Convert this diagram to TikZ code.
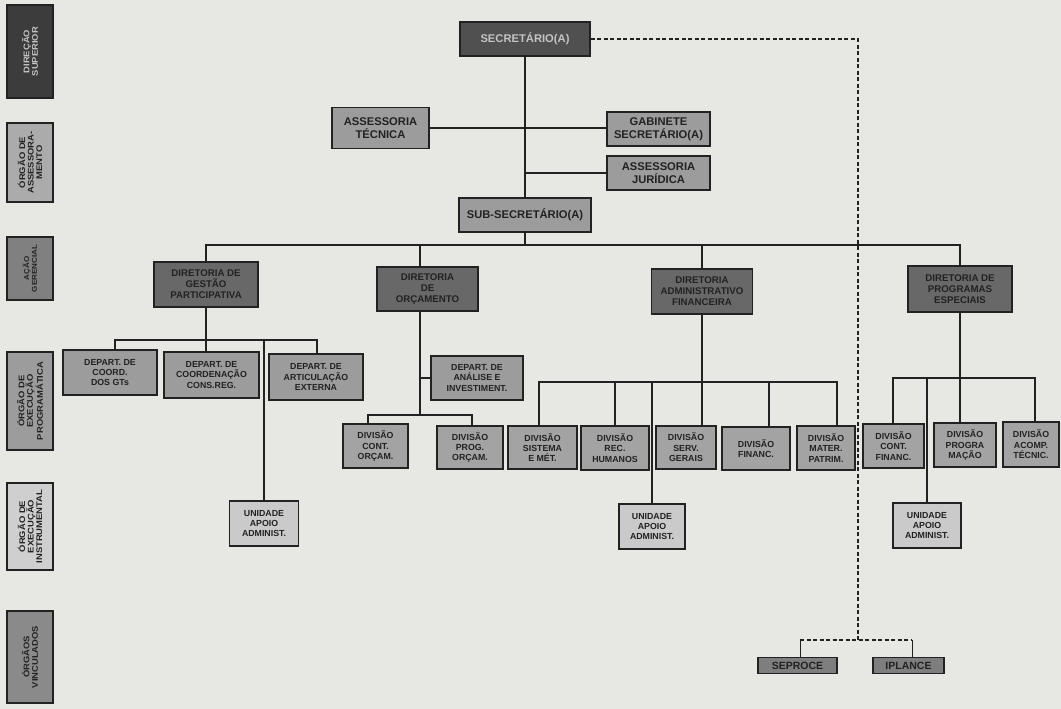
\documentclass[tikz,border=0pt]{standalone}
\usepackage{fontspec}
\setmainfont{Liberation Sans}
\newfontfamily\labfont[FakeStretch=1.15]{Liberation Sans}
\definecolor{bg}{HTML}{E7E7E3}
\definecolor{cSec}{HTML}{505050}
\definecolor{cDir}{HTML}{686868}
\definecolor{cAss}{HTML}{9C9C9C}
\definecolor{cDiv}{HTML}{A3A3A3}
\definecolor{cUni}{HTML}{CACACA}
\definecolor{cVin}{HTML}{7E7E7E}
\definecolor{cL1}{HTML}{3C3C3C}
\definecolor{cL2}{HTML}{ABABAB}
\definecolor{cL3}{HTML}{808080}
\definecolor{cL4}{HTML}{9C9C9C}
\definecolor{cL5}{HTML}{CFCFCF}
\definecolor{cL6}{HTML}{8A8A8A}
\definecolor{ink}{HTML}{222222}
\definecolor{pale}{HTML}{C4C4C4}
\begin{document}
\begin{tikzpicture}[x=1pt,y=-1pt,
  box/.style={draw=ink, line width=1.3pt, align=center, inner sep=1pt, text=ink, font=\fontsize{8.8}{10.4}\selectfont\bfseries},
  dirbox/.style={box, font=\fontsize{9.7}{11}\selectfont\bfseries},
  big/.style={box, font=\fontsize{11.2}{12.8}\selectfont\bfseries},
  sz/.style 2 args={minimum width=#1, minimum height=#2},
  lab/.style={draw=ink, line width=1.1pt, rotate=90, align=center, inner sep=1pt, text=ink, minimum height=46, font=\labfont\fontsize{8.2}{8.6}\selectfont\bfseries},
  con/.style={draw=ink, line width=1.5pt},
  dsh/.style={draw=ink, line width=1.2pt, dashed, dash pattern=on 4pt off 2.5pt}]
\fill[bg] (0,0) rectangle (1061,709);
\useasboundingbox (0,0) rectangle (1061,709);

% left level labels
\node[lab, fill=cL1, text=pale, minimum width=93] (l1) at (30,51.5) {DIREÇÃO\\SUPERIOR};
\node[lab, fill=cL2, minimum width=79] (l2) at (30,162.5) {ÓRGÃO DE\\ASSESSORA-\\MENTO};
\node[lab, fill=cL3, minimum width=63, font=\labfont\fontsize{7}{7.8}\selectfont\bfseries] (l3) at (30,268.5) {AÇÃO\\GERENCIAL};
\node[lab, fill=cL4, minimum width=98] (l4) at (30,401) {ÓRGÃO DE\\EXECUÇÃO\\PROGRAMÁTICA};
\node[lab, fill=cL5, minimum width=87] (l5) at (30,526.5) {ÓRGÃO DE\\EXECUÇÃO\\INSTRUMENTAL};
\node[lab, fill=cL6, minimum width=92] (l6) at (30,657) {ÓRGÃOS\\VINCULADOS};

% top
\node[big, fill=cSec, text=pale, sz={130}{34}] (sec) at (525,39) {SECRETÁRIO(A)};
\node[big, fill=cAss, sz={97}{41}] (at) at (380.5,128) {ASSESSORIA\\TÉCNICA};
\node[big, fill=cAss, sz={103}{34}] (gab) at (658.5,129) {GABINETE\\SECRETÁRIO(A)};
\node[big, fill=cAss, sz={103}{34}] (aj) at (658.5,173) {ASSESSORIA\\JURÍDICA};
\node[big, fill=cAss, sz={132}{34}] (sub) at (525,215) {SUB-SECRETÁRIO(A)};

% directorates
\node[dirbox, fill=cDir, sz={104}{45}] (dgp) at (206,284.5) {DIRETORIA DE\\GESTÃO\\PARTICIPATIVA};
\node[dirbox, fill=cDir, sz={101}{44}] (dor) at (427.5,289) {DIRETORIA\\DE\\ORÇAMENTO};
\node[dirbox, fill=cDir, sz={101}{45}] (daf) at (702,291.5) {DIRETORIA\\ADMINISTRATIVO\\FINANCEIRA};
\node[dirbox, fill=cDir, sz={104}{46}] (dpe) at (960,289) {DIRETORIA DE\\PROGRAMAS\\ESPECIAIS};

% departments
\node[box, fill=cAss, sz={94}{45}] (d1) at (110,372.5) {DEPART. DE\\COORD.\\DOS GTs};
\node[box, fill=cAss, sz={95}{46}] (d2) at (211.5,375) {DEPART. DE\\COORDENAÇÃO\\CONS.REG.};
\node[box, fill=cAss, sz={94}{46}] (d3) at (316,377) {DEPART. DE\\ARTICULAÇÃO\\EXTERNA};
\node[box, fill=cAss, sz={92}{44}] (d4) at (477,378) {DEPART. DE\\ANÁLISE E\\INVESTIMENT.};

% divisions
\node[box, fill=cDiv, sz={65}{44}] (v1) at (375.5,446) {DIVISÃO\\CONT.\\ORÇAM.};
\node[box, fill=cDiv, sz={66}{43}] (v2) at (470,447.5) {DIVISÃO\\PROG.\\ORÇAM.};
\node[box, fill=cDiv, sz={69}{43}] (v3) at (542.5,447.5) {DIVISÃO\\SISTEMA\\E MÉT.};
\node[box, fill=cDiv, sz={68}{44}] (v4) at (615,448) {DIVISÃO\\REC.\\HUMANOS};
\node[box, fill=cDiv, sz={60}{43}] (v5) at (686,447.5) {DIVISÃO\\SERV.\\GERAIS};
\node[box, fill=cDiv, sz={68}{43}] (v6) at (756,448.5) {DIVISÃO\\FINANC.};
\node[box, fill=cDiv, sz={58}{44}] (v7) at (826,448) {DIVISÃO\\MATER.\\PATRIM.};
\node[box, fill=cDiv, sz={61}{44}] (v8) at (893.5,446) {DIVISÃO\\CONT.\\FINANC.};
\node[box, fill=cDiv, sz={62}{44}] (v9) at (965,445) {DIVISÃO\\PROGRA\\MAÇÃO};
\node[box, fill=cDiv, sz={56}{45}] (v10) at (1031,444.5) {DIVISÃO\\ACOMP.\\TÉCNIC.};

% support units
\node[box, fill=cUni, sz={69}{45}] (u1) at (264,523.5) {UNIDADE\\APOIO\\ADMINIST.};
\node[box, fill=cUni, sz={66}{45}] (u2) at (652,526.5) {UNIDADE\\APOIO\\ADMINIST.};
\node[box, fill=cUni, sz={68}{45}] (u3) at (927,525.5) {UNIDADE\\APOIO\\ADMINIST.};

% linked bodies
\node[box, fill=cVin, sz={79}{16}, font=\fontsize{10.5}{11}\selectfont\bfseries] (sep) at (797.5,665.5) {SEPROCE};
\node[box, fill=cVin, sz={71}{16}, font=\fontsize{10.5}{11}\selectfont\bfseries] (ipl) at (908.5,665.5) {IPLANCE};

% bus coordinates
\coordinate (mb) at (525,245);
\coordinate (b1l) at (115,340);
\coordinate (b1r) at (317,340);
\coordinate (b2) at (420,415);
\coordinate (b2l) at (368,415);
\coordinate (b2r) at (472,415);
\coordinate (b3l) at (539,382);
\coordinate (b3r) at (837,382);
\coordinate (b3f) at (769,382);
\coordinate (b4l) at (893,378);
\coordinate (b4r) at (1035,378);
\coordinate (dc) at (858,39);
\coordinate (db) at (858,640);
\coordinate (dbl) at (800,640);
\coordinate (dbr) at (912,640);

% top connectors
\draw[con] (sec) -- (sub);
\draw[con] (at.east) -- (gab.west |- at.east);
\draw[con] (aj.west) -- (aj.west -| sec.south);

% main bus
\draw[con] (sub.south) -- (mb);
\draw[con] (dgp.north) |- (mb);
\draw[con] (dpe.north) |- (mb);
\draw[con] (b2 |- mb) -- (b2 |- dor.north);
\draw[con] (daf.north) -- (daf.north |- mb);

% DGP
\draw[con] (dgp.south) -- (dgp.south |- d2.north);
\draw[con] (b1l |- d1.north) -- (b1l) -- (b1r) -- (b1r |- d3.north);
\draw[con] (u1.north) -- (u1.north |- b1l);

% DOR
\draw[con] (b2 |- dor.south) -- (b2);
\draw[con] (b2l |- v1.north) -- (b2l) -- (b2r) -- (b2r |- v2.north);
\draw[con] (d4.west) -- (d4.west -| b2);

% DAF
\draw[con] (daf.south) -- (daf.south |- v5.north);
\draw[con] (b3l |- v3.north) -- (b3l) -- (b3r) -- (b3r |- v7.north);
\draw[con] (v4.north) -- (v4.north |- b3l);
\draw[con] (b3f |- v6.north) -- (b3f);
\draw[con] (u2.north) -- (u2.north |- b3l);

% DPE
\draw[con] (dpe.south) -- (dpe.south |- v9.north);
\draw[con] (b4l |- v8.north) -- (b4l) -- (b4r) -- (b4r |- v10.north);
\draw[con] (u3.north) -- (u3.north |- b4l);

% dashed link to linked bodies
\draw[dsh] (sec.east) -- (dc) -- (db);
\draw[dsh] (dbl) -- (dbr);
\draw[con, line width=1pt] (dbl) -- (dbl |- sep.north);
\draw[con, line width=1pt] (dbr) -- (dbr |- ipl.north);
\end{tikzpicture}
\end{document}
